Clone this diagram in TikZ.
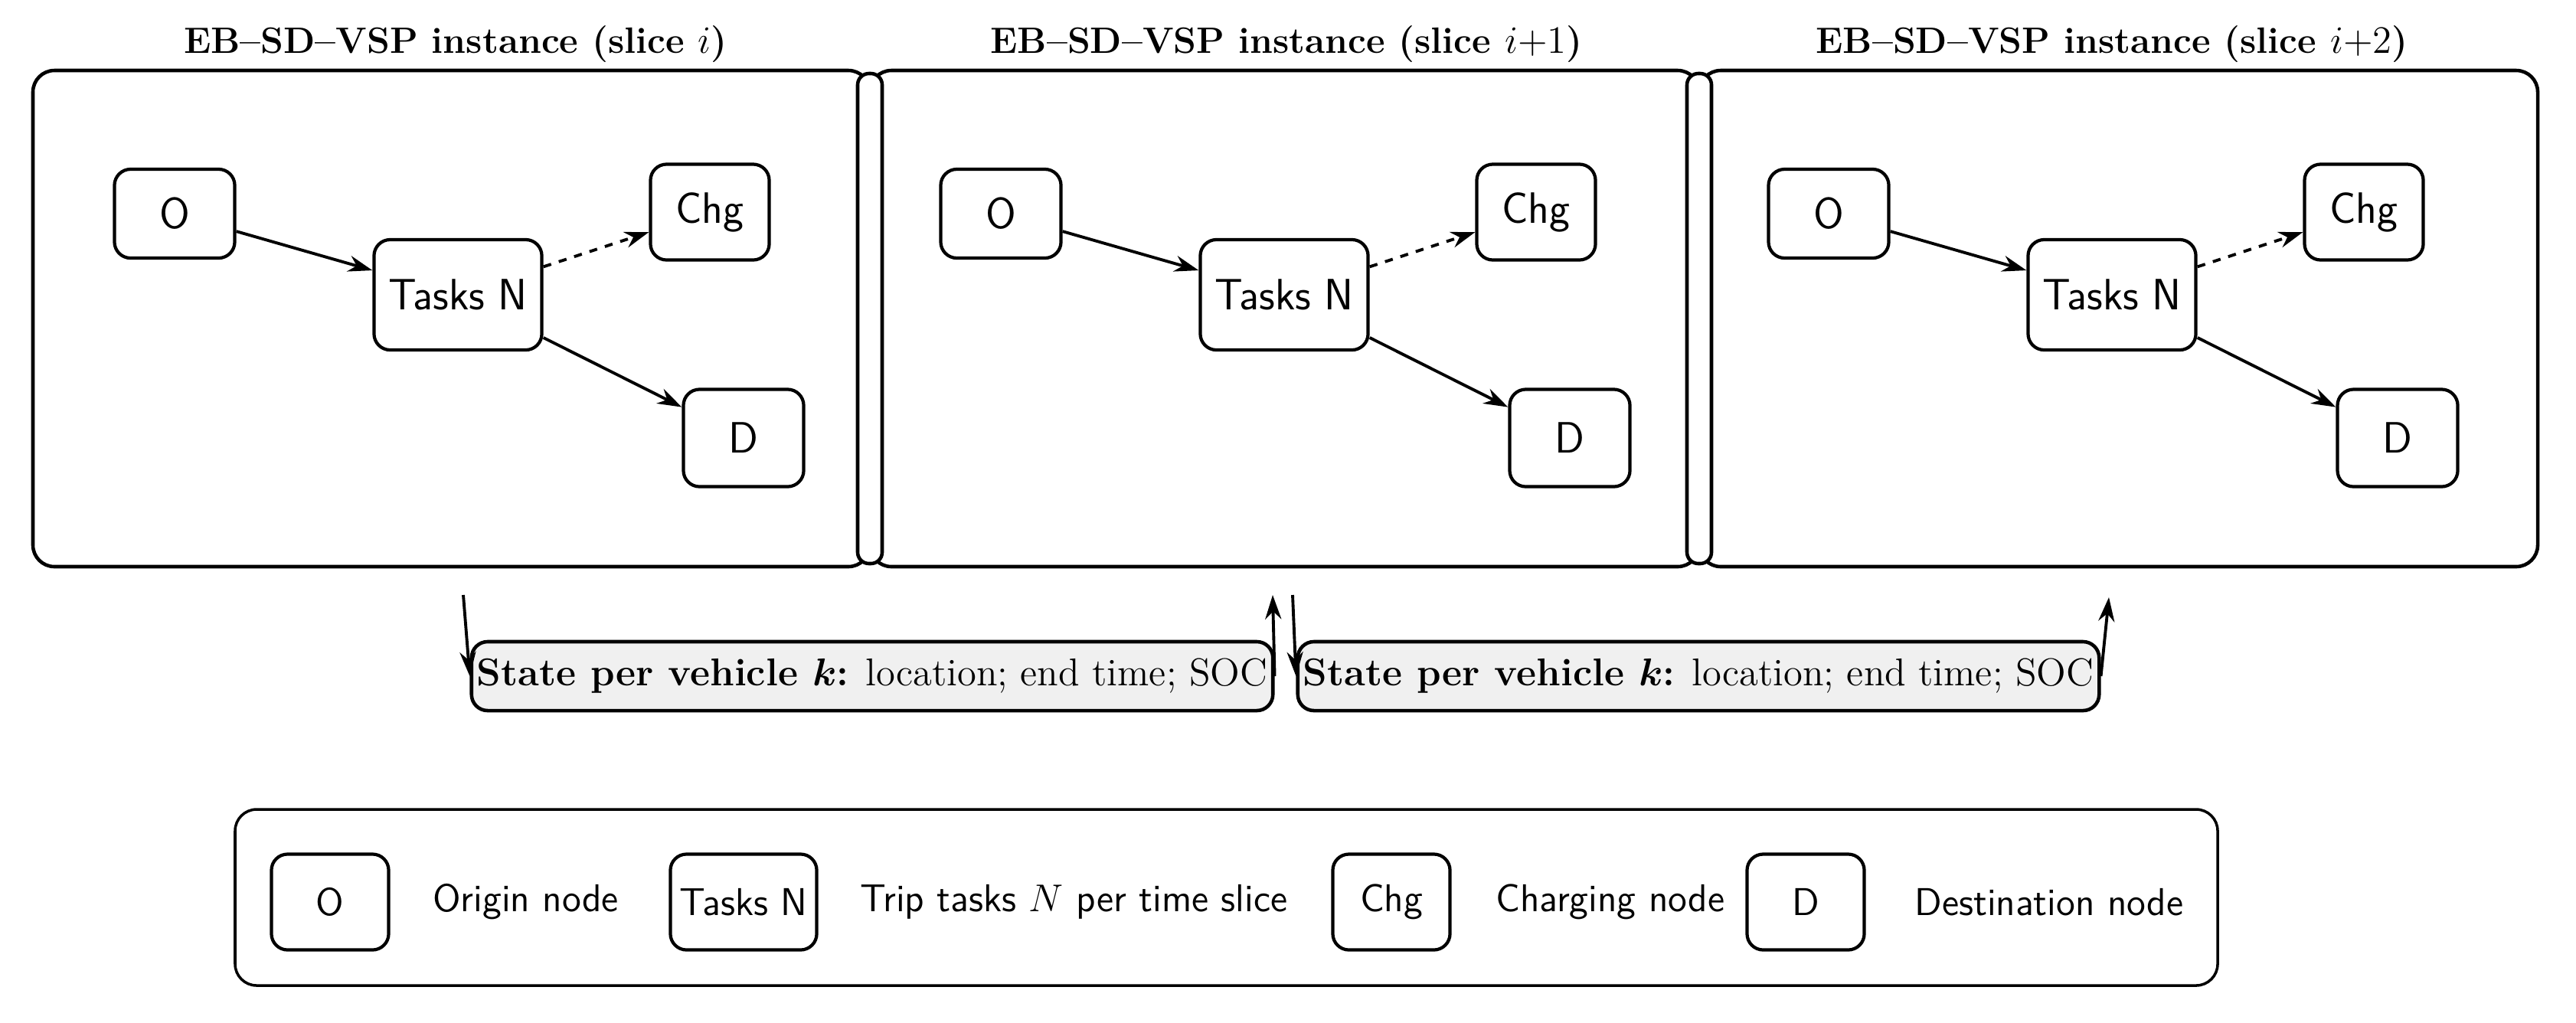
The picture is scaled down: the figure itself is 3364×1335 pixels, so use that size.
\documentclass[tikz,border=0pt]{standalone}
\usepackage{amsmath,bm}
\usetikzlibrary{arrows.meta}
\begin{document}
\begin{tikzpicture}[x=0.01cm,y=-0.01cm,
 box/.style={draw,line width=1.2pt,rounded corners=6pt,font=\sffamily\fontsize{16.3}{19}\selectfont,inner sep=0pt},
 lbox/.style={draw,line width=1.2pt,rounded corners=6pt,font=\sffamily\Large,inner sep=0pt,minimum width=1.53cm,minimum height=1.25cm},
 panel/.style={draw,line width=1.3pt,rounded corners=8pt},
 pill/.style={draw,line width=1.3pt,rounded corners=4.2pt},
 arr/.style={-{Stealth[length=9pt,width=6pt]},line width=1.1pt},
 title/.style={font=\bfseries\fontsize{13.6}{16}\selectfont},
 state/.style={draw,line width=1.3pt,rounded corners=6pt,fill=gray!12,minimum width=10.12cm,minimum height=0.9cm,font=\Large,inner sep=2pt},
 ltext/.style={font=\sffamily\Large,anchor=west}]
\useasboundingbox (0,0) rectangle (3364,1335);
\draw[panel] (43,92) rectangle (1136,740);
\draw[panel] (1136,92) rectangle (2219,740);
\draw[panel] (2219,92) rectangle (3314,740);
\draw[pill,fill=white] (1120,96) rectangle (1152,736);
\draw[pill,fill=white] (2203,96) rectangle (2235,736);
\node[title] (t1) at (595,58) {EB--SD--VSP instance (slice $i$)};
\node[title] (t2) at (1680,58) {EB--SD--VSP instance (slice $i{+}1$)};
\node[title] (t3) at (2758,58) {EB--SD--VSP instance (slice $i{+}2$)};
\foreach \k/\dx in {1/0,2/1079,3/2160}{
 \node[box,minimum width=1.57cm,minimum height=1.16cm] (O\k) at (228+\dx,279) {O};
 \node[box,minimum width=2.19cm,minimum height=1.44cm] (N\k) at (598+\dx,385) {Tasks N};
 \node[box,minimum width=1.55cm,minimum height=1.25cm] (C\k) at (927+\dx,277) {Chg};
 \node[box,minimum width=1.57cm,minimum height=1.27cm] (D\k) at (971+\dx,572) {D};
 \draw[arr] (O\k) -- (N\k);
 \draw[arr,dashed] (N\k) -- (C\k);
 \draw[arr] (N\k) -- (D\k);
}
\node[state] (s1) at (1139,883) {\textbf{State per vehicle $\bm{k}$:} location; end time; SOC};
\node[state] (s2) at (2218,883) {\textbf{State per vehicle $\bm{k}$:} location; end time; SOC};
\coordinate (a1) at (605,777);
\coordinate (a2) at (1662,777);
\coordinate (a3) at (1688,777);
\coordinate (a4) at (2754,780);
\draw[arr] (a1) -- (s1.west);
\draw[arr] (s1.east) -- (a2);
\draw[arr] (a3) -- (s2.west);
\draw[arr] (s2.east) -- (a4);
\draw[line width=1pt,rounded corners=8pt] (307,1057) rectangle (2896,1287);
\node[lbox] (l1) at (431,1178) {O};
\node[ltext] (lt1) at (553,1178) {Origin node};
\node[lbox,minimum width=1.91cm] (l2) at (971,1178) {Tasks N};
\node[ltext] (lt2) at (1111,1178) {Trip tasks $N$ per time slice};
\node[lbox] (l3) at (1817,1178) {Chg};
\node[ltext] (lt3) at (1941,1178) {Charging node};
\node[lbox] (l4) at (2358,1178) {D};
\node[ltext] (lt4) at (2488,1178) {Destination node};
\end{tikzpicture}
\end{document}
